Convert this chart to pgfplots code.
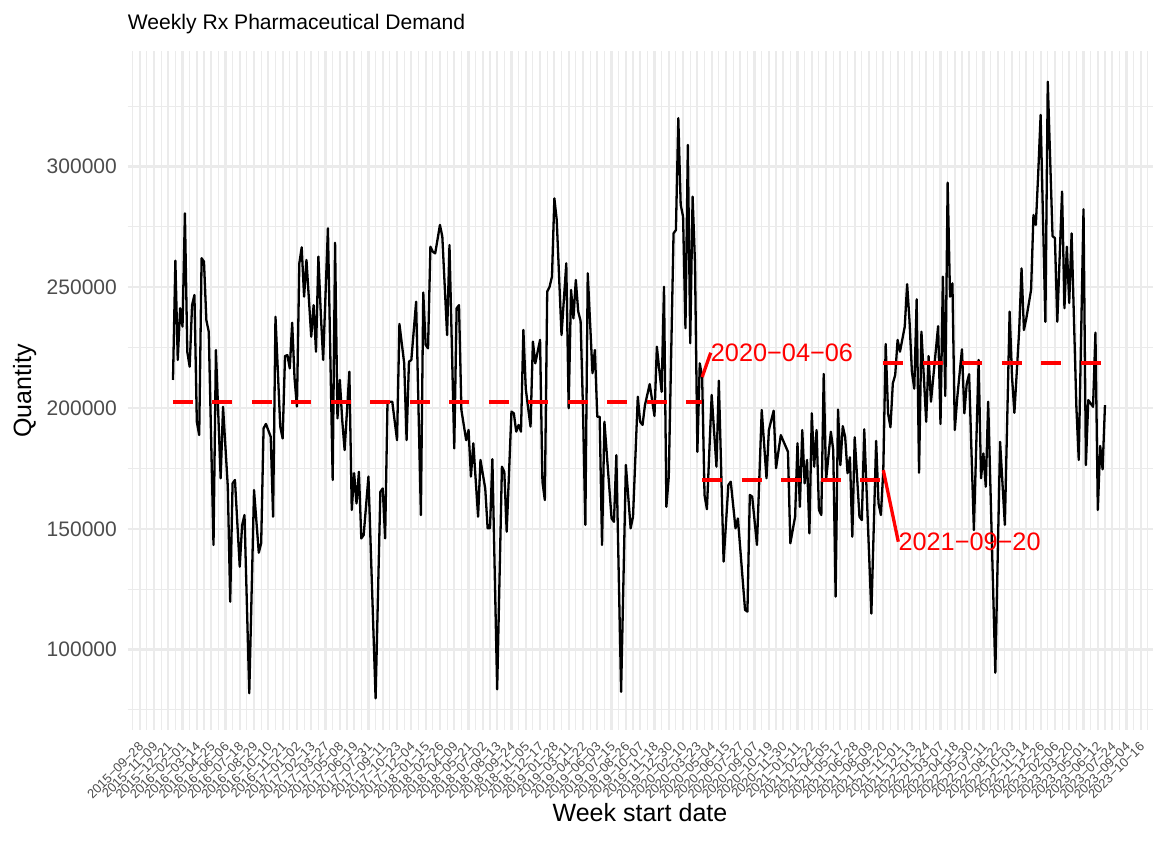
\documentclass[border=0pt]{standalone}
\usepackage{pgfplots}
\pgfplotsset{compat=1.18}
\usepackage{fontspec}
\setmainfont{Liberation Sans}
\definecolor{gridc}{HTML}{EBEBEB}
\definecolor{tickc}{HTML}{4D4D4D}
\definecolor{cpred}{HTML}{FF0000}
\begin{document}
\begin{tikzpicture}[x=1pt,y=1pt]
\useasboundingbox (0,0) rectangle (1163,841);
\begin{axis}[
  at={(127.7pt,111pt)}, anchor=south west,
  width=1025pt, height=679pt, scale only axis,
  xmin=-5, xmax=425, ymin=66700, ymax=347800,
  scaled y ticks=false, scaled x ticks=false,
  axis line style={draw=none},
  major tick length=0pt, minor tick length=0pt,
  xtick={0,6,...,420},
  minor xtick={-3,3,...,423},
  ytick={100000,150000,200000,250000,300000},
  yticklabels={100000,150000,200000,250000,300000},
  minor ytick={75000,125000,175000,225000,275000,325000},
  grid=both,
  major grid style={draw=gridc, line width=2.2pt},
  minor grid style={draw=gridc, line width=1.1pt},
  yticklabel style={font=\fontsize{21}{21}\selectfont, text=tickc, anchor=east, inner sep=0pt, xshift=-10.7pt},
  xticklabel style={font=\fontsize{13}{13}\selectfont, text=tickc, xshift=1.5pt, yshift=-14.5pt, rotate=45, anchor=east, inner sep=0pt},
  xticklabels={2015−09−28,2015−11−09,2015−12−21,2016−02−01,2016−03−14,2016−04−25,2016−06−06,2016−07−18,2016−08−29,2016−10−10,2016−11−21,2017−01−02,2017−02−13,2017−03−27,2017−05−08,2017−06−19,2017−07−31,2017−09−11,2017−10−23,2017−12−04,2018−01−15,2018−02−26,2018−04−09,2018−05−21,2018−07−02,2018−08−13,2018−09−24,2018−11−05,2018−12−17,2019−01−28,2019−03−11,2019−04−22,2019−06−03,2019−07−15,2019−08−26,2019−10−07,2019−11−18,2019−12−30,2020−02−10,2020−03−23,2020−05−04,2020−06−15,2020−07−27,2020−09−07,2020−10−19,2020−11−30,2021−01−11,2021−02−22,2021−04−05,2021−05−17,2021−06−28,2021−08−09,2021−09−20,2021−11−01,2021−12−13,2022−01−24,2022−03−07,2022−04−18,2022−05−30,2022−07−11,2022−08−22,2022−10−03,2022−11−14,2022−12−26,2023−02−06,2023−03−20,2023−05−01,2023−06−12,2023−07−24,2023−09−04,2023−10−16},
]
\addplot[black, line width=2.3pt, line join=round] table[row sep=\\] {
w q\\
14 211600\\ 15 261000\\ 16 219900\\ 17 241300\\ 18 233700\\ 19 280600\\ 20 223300\\ 21 217100\\
22 242600\\ 23 246800\\ 24 194300\\ 25 188800\\ 26 262000\\ 27 260600\\ 28 236400\\ 29 231600\\
31 143300\\ 32 224000\\ 34 170900\\ 35 200500\\ 37 167400\\ 38 119800\\ 39 168800\\ 40 170200\\
42 134300\\ 43 151500\\ 44 155700\\ 46 81900\\ 48 166000\\ 50 140100\\ 51 144000\\ 52 191600\\
53 193400\\ 55 188100\\ 56 155000\\ 57 237800\\ 59 192300\\ 60 187400\\ 61 221500\\ 62 221900\\
63 216400\\ 64 235300\\ 65 212300\\ 66 200600\\ 67 259900\\ 68 266500\\ 69 246100\\ 70 261300\\
72 229500\\ 73 242600\\ 74 223300\\ 75 262700\\ 76 239200\\ 77 219900\\ 79 274400\\ 81 170200\\
82 268400\\ 83 195700\\ 84 211600\\ 85 195000\\ 86 182600\\ 88 215000\\ 89 157800\\ 90 173000\\
91 160500\\ 92 173600\\ 93 146000\\ 94 147400\\ 96 171600\\ 99 79800\\ 101 165300\\ 102 166700\\
103 146000\\ 104 202600\\ 106 202600\\ 108 186700\\ 109 234800\\ 111 218500\\ 112 186700\\ 113 219200\\
114 219900\\ 116 244000\\ 118 155700\\ 119 247800\\ 120 226100\\ 121 224700\\ 122 266800\\ 123 264700\\
124 264000\\ 126 275800\\ 127 270900\\ 129 230200\\ 130 267500\\ 132 183300\\ 133 241300\\ 134 242600\\
135 199200\\ 137 186700\\ 138 190900\\ 139 171600\\ 140 185400\\ 142 155000\\ 143 178500\\ 145 166700\\
146 150200\\ 147 150200\\ 148 178800\\ 150 83500\\ 152 175700\\ 153 173600\\ 154 148800\\ 156 198500\\
157 197800\\ 158 190200\\ 159 193000\\ 160 190200\\ 161 232300\\ 162 208000\\ 163 200000\\ 164 192300\\
165 227500\\ 166 218500\\ 168 228200\\ 169 169500\\ 170 161900\\ 171 248200\\ 172 250200\\ 173 254400\\
174 286800\\ 175 277800\\ 177 230200\\ 179 259900\\ 180 199900\\ 181 248900\\ 182 237100\\ 183 253000\\
184 240000\\ 185 236000\\ 186 200000\\ 187 151600\\ 188 255800\\ 190 214400\\ 191 224000\\ 192 196400\\
193 196400\\ 194 143300\\ 195 194300\\ 198 154300\\ 199 152900\\ 200 180500\\ 202 82500\\ 204 176400\\
206 150200\\ 207 155000\\ 209 204700\\ 210 194300\\ 211 193000\\ 212 201200\\ 214 209900\\ 216 196700\\
217 225400\\ 219 206700\\ 220 250200\\ 221 159100\\ 222 171600\\ 224 272300\\ 225 273700\\ 226 320000\\
227 284100\\ 228 279200\\ 229 233000\\ 230 308900\\ 231 226800\\ 232 287500\\ 233 259900\\ 234 181900\\
235 218500\\ 236 212800\\ 237 164000\\ 238 158100\\ 240 205400\\ 242 175700\\ 243 211300\\ 245 136400\\
247 168100\\ 248 169500\\ 250 150200\\ 251 154300\\ 254 116400\\ 255 115700\\ 256 164000\\ 257 163300\\
259 143300\\ 261 199200\\ 263 170900\\ 264 190900\\ 266 198900\\ 267 175100\\ 269 188800\\ 272 181900\\
273 144000\\ 275 155000\\ 276 185400\\ 277 159100\\ 278 190900\\ 279 168800\\ 280 178500\\ 281 148100\\
282 197800\\ 283 175700\\ 284 190900\\ 285 157800\\ 286 155700\\ 287 214100\\ 288 170200\\ 290 190200\\
291 182600\\ 292 121900\\ 293 199400\\ 294 176400\\ 295 192500\\ 296 188000\\ 297 173000\\ 298 179600\\
299 146700\\ 300 187900\\ 302 155000\\ 303 153600\\ 304 191200\\ 307 114900\\ 309 186400\\ 310 160500\\
311 155700\\ 312 174300\\ 313 226500\\ 314 197800\\ 315 192000\\ 316 210200\\ 317 213700\\ 318 228200\\
319 223300\\ 321 233700\\ 322 251300\\ 323 236000\\ 324 215000\\ 325 208000\\ 326 245000\\ 327 173200\\
328 231600\\ 330 194300\\ 331 221500\\ 332 202600\\ 335 233900\\ 336 193400\\ 337 254400\\ 338 205000\\
339 293300\\ 340 246100\\ 341 251600\\ 342 190900\\ 343 204000\\ 345 224300\\ 346 197800\\ 347 210000\\
348 214000\\ 350 149500\\ 352 219900\\ 353 170900\\ 354 181200\\ 355 167400\\ 356 202600\\ 359 90400\\
361 186000\\ 363 151600\\ 365 239900\\ 366 213000\\ 367 198000\\ 369 232000\\ 370 257800\\ 371 232300\\
372 237100\\ 374 248900\\ 375 279900\\ 376 275800\\ 377 297200\\ 378 321300\\ 380 235700\\ 381 335100\\
383 271200\\ 384 270300\\ 385 235700\\ 387 289600\\ 388 241300\\ 389 266800\\ 390 243500\\ 391 272300\\
393 200500\\ 394 178500\\ 396 282300\\ 397 176400\\ 398 203300\\ 400 200500\\ 401 231200\\ 402 157800\\
403 184300\\ 404 174600\\ 405 201200\\
};
\addplot[cpred, line width=4.3pt, dash pattern=on 20pt off 19.5pt] coordinates {(14,202600) (236,202600)};
\addplot[cpred, line width=4.3pt, dash pattern=on 20pt off 19.5pt] coordinates {(236,170200) (312,170200)};
\addplot[cpred, line width=4.3pt, dash pattern=on 20pt off 19.5pt] coordinates {(312,218500) (405,218500)};
\draw[cpred, line width=3.3pt] (axis cs:236,212800) -- (axis cs:239.6,222900);
\draw[cpred, line width=3.3pt] (axis cs:312,174300) -- (axis cs:318.3,144650);
\node[anchor=west, inner sep=0pt, text=cpred, font=\fontsize{25.3}{25.3}\selectfont] at (axis cs:239.6,222900) {2020−04−06};
\node[anchor=west, inner sep=0pt, text=cpred, font=\fontsize{25.3}{25.3}\selectfont] at (axis cs:318.3,144650) {2021−09−20};
\end{axis}
\node[anchor=base west, inner sep=0pt, font=\fontsize{21.1}{21.1}\selectfont] at (127.7,811) {Weekly Rx Pharmaceutical Demand};
\node[anchor=base, inner sep=0pt, font=\fontsize{25}{25}\selectfont] at (640,19) {Week start date};
\node[anchor=base, inner sep=0pt, rotate=90, font=\fontsize{25}{25}\selectfont] at (31,450) {Quantity};
\end{tikzpicture}
\end{document}
